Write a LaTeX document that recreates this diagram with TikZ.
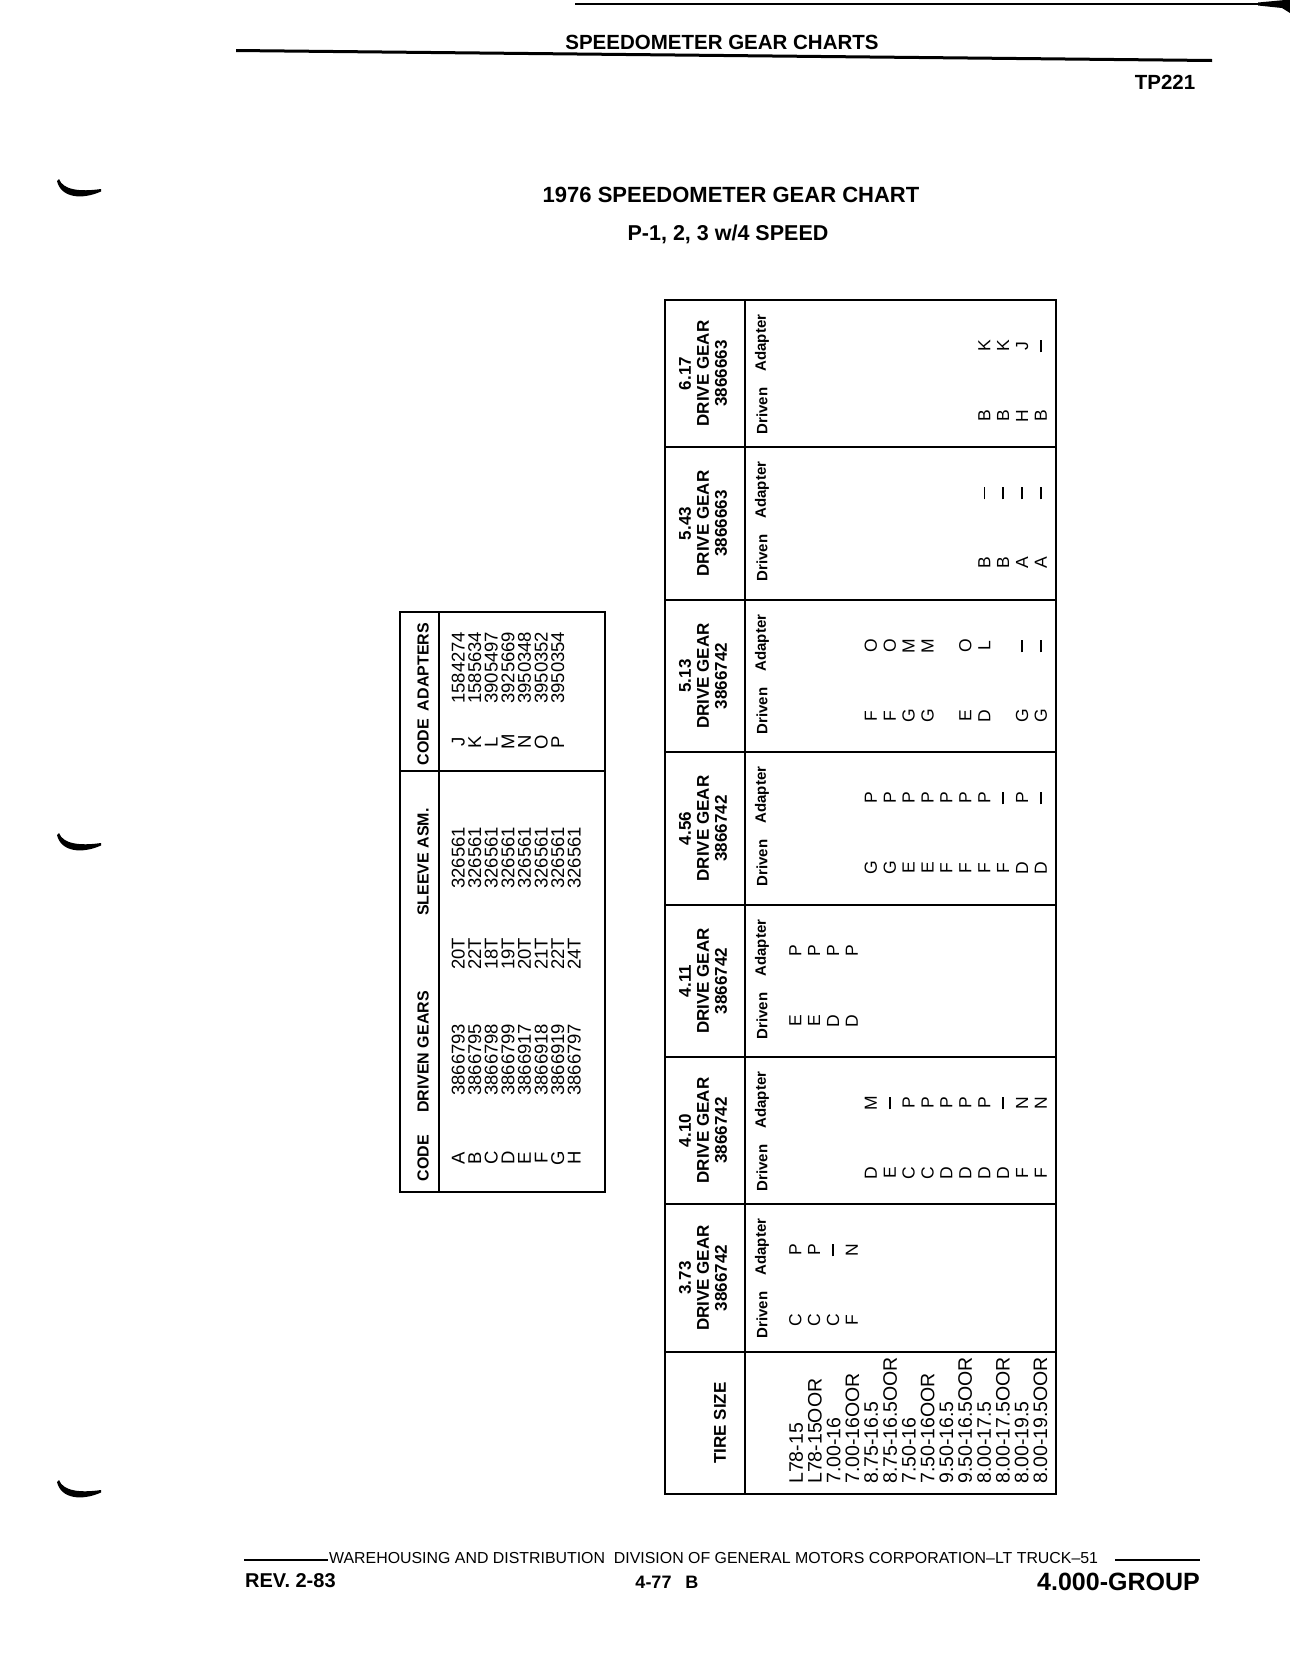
\documentclass[tikz,border=0pt]{standalone}
\usepackage{fontspec}
\setmainfont{Liberation Sans}
\newcommand\dd{\raisebox{0.3em}{\rule{0.72em}{1.5pt}}}
\tikzset{
  hdr/.style={rotate=90, align=center, inner sep=0pt, font=\bfseries\fontsize{17}{18}\selectfont},
  sub/.style={rotate=90, inner sep=0pt, font=\bfseries\fontsize{15}{15}\selectfont},
  dat/.style={rotate=90, inner sep=0pt, text height=12.5pt, text depth=0pt, font=\fontsize{17.5}{17.5}\selectfont},
  tire/.style={rotate=90, anchor=west, inner sep=0pt, text height=13.5pt, text depth=0pt, font=\fontsize{19.5}{19.5}\selectfont},
  sdat/.style={rotate=90, inner sep=0pt, text height=13pt, text depth=0pt, font=\fontsize{18.5}{18.5}\selectfont},
  snum/.style={sdat, anchor=west},
  shdr/.style={rotate=90, inner sep=0pt, font=\bfseries\fontsize{16}{16}\selectfont},
  tline/.style={line width=2.2pt},
  ttl/.style={inner sep=0pt, anchor=base, font=\bfseries\fontsize{22}{22}\selectfont},
}
\newcommand\gsec[5]{%
  \node[hdr] (h#1) at (703,#3) {#4};
  \node[sub] (la#1) at (762,#2+43) {Adapter};
  \node[sub] (ld#1) at (762,#2+111) {Driven};
  \foreach \r/\d/\a [count=\k] in {#5} {
    \node[dat] (d#1-\k) at (795+18.9*\r,#2+116) {\d};
    \node[dat] (a#1-\k) at (795+18.9*\r,#2+46) {\a};
  }}
\begin{document}
\begin{tikzpicture}[x=1pt,y=-1pt]
\useasboundingbox (0,0) rectangle (1290,1658);
% scan edge at top
\draw[line width=1.2pt] (575,4) -- (1268,4);
\fill (1258,2.5) -- (1285,0) -- (1290,0) -- (1290,13) -- (1282,8) -- (1258,5.5) -- cycle;
% page header
\node[ttl, font=\bfseries\fontsize{20.5}{20.5}\selectfont] (title) at (722,49.5) {SPEEDOMETER GEAR CHARTS};
\fill (236,49) -- (1212,59) -- (1212,62) -- (236,52) -- cycle;
\node[ttl, font=\bfseries\fontsize{20.5}{20.5}\selectfont] (tp) at (1165,89) {TP221};
\node[ttl] (chart) at (731,202) {1976 SPEEDOMETER GEAR CHART};
\node[ttl, font=\bfseries\fontsize{21.5}{21.5}\selectfont] (model) at (728,240) {P-1, 2, 3 w/4 SPEED};
% punch marks
\foreach \yy in {189,843,1490} {
  \fill (59,\yy-10) .. controls (63,\yy+1) and (80,\yy+3) .. (101,\yy)
     -- (101,\yy+2.5) .. controls (82,\yy+11) and (61,\yy+9) .. (57,\yy-8) -- cycle;
}
% ---------- small table ----------
\draw[tline] (400,612) rectangle (605,1192);
\draw[tline] (439,612) -- (439,1192);
\draw[tline] (400,771) -- (605,771);
\node[shdr] (sh1) at (423,667) {ADAPTERS};
\node[shdr] (sh2) at (423,742) {CODE};
\node[shdr] (sh3) at (423,862) {SLEEVE ASM.};
\node[shdr] (sh4) at (423,1052) {DRIVEN GEARS};
\node[shdr] (sh5) at (423,1158) {CODE};
\foreach \n/\c [count=\k from 0] in {1584274/J,1585634/K,3905497/L,3925669/M,3950348/N,3950352/O,3950354/P} {
  \node[snum] (an\k) at (458+16.6*\k,704) {\n};
  \node[sdat] (ac\k) at (458+16.6*\k,742) {\c};
}
\foreach \g/\t/\c [count=\k from 0] in {3866793/20T/A,3866795/22T/B,3866798/18T/C,3866799/19T/D,3866917/20T/E,3866918/21T/F,3866919/22T/G,3866797/24T/H} {
  \node[snum] (sl\k) at (458+16.6*\k,889) {326561};
  \node[snum] (tt\k) at (458+16.6*\k,970) {\t};
  \node[snum] (gn\k) at (458+16.6*\k,1096) {\g};
  \node[sdat] (gc\k) at (458+16.6*\k,1158) {\c};
}
% ---------- big table ----------
\draw[tline] (665,300) rectangle (1056,1494);
\draw[tline] (745,300) -- (745,1494);
\foreach \yy in {447,600,752,905,1057,1204} { \draw[tline] (665,\yy) -- (1056,\yy); }
\draw[line width=2.8pt] (665,1352) -- (1056,1352);
\gsec{0}{300}{373.5}{6.17\\DRIVE GEAR\\3866663}{10/B/K,11/B/K,12/H/J,13/B/\dd}
\gsec{1}{447}{523.5}{5.43\\DRIVE GEAR\\3866663}{10/B/\dd,11/B/\dd,12/A/\dd,13/A/\dd}
\gsec{2}{600}{676}{5.13\\DRIVE GEAR\\3866742}{4/F/O,5/F/O,6/G/M,7/G/M,9/E/O,10/D/L,12/G/\dd,13/G/\dd}
\gsec{3}{752}{828.5}{4.56\\DRIVE GEAR\\3866742}{4/G/P,5/G/P,6/E/P,7/E/P,8/F/P,9/F/P,10/F/P,11/F/\dd,12/D/P,13/D/\dd}
\gsec{4}{905}{981}{4.11\\DRIVE GEAR\\3866742}{0/E/P,1/E/P,2/D/P,3/D/P}
\gsec{5}{1057}{1130.5}{4.10\\DRIVE GEAR\\3866742}{4/D/M,5/E/\dd,6/C/P,7/C/P,8/D/P,9/D/P,10/D/P,11/D/\dd,12/F/N,13/F/N}
\gsec{6}{1204}{1278}{3.73\\DRIVE GEAR\\3866742}{0/C/P,1/C/P,2/C/\dd,3/F/N}
\node[hdr] (tsz) at (720,1423) {TIRE SIZE};
\foreach \s [count=\k from 0] in {L78-15,L78-15OOR,7.00-16,7.00-16OOR,8.75-16.5,8.75-16.5OOR,7.50-16,7.50-16OOR,9.50-16.5,9.50-16.5OOR,8.00-17.5,8.00-17.5OOR,8.00-19.5,8.00-19.5OOR} {
  \node[tire] (ts\k) at (796+18.8*\k,1484) {\s};
}
% ---------- footer ----------
\node[inner sep=0pt, anchor=base west, font=\fontsize{15.9}{15.9}\selectfont] (foot) at (329,1563) {WAREHOUSING AND DISTRIBUTION\ \ DIVISION OF GENERAL MOTORS CORPORATION\textendash LT TRUCK\textendash 51};
\draw[line width=1.2pt] (244,1560) -- (328,1560);
\draw[line width=1.2pt] (1115,1560) -- (1200,1560);
\node[inner sep=0pt, anchor=base west, font=\bfseries\fontsize{20}{20}\selectfont] (rev) at (245,1587) {REV. 2-83};
\node[inner sep=0pt, anchor=base, font=\bfseries\fontsize{18}{18}\selectfont] (pg) at (667,1588) {4-77\hspace{14pt}B};
\node[inner sep=0pt, anchor=base east, font=\bfseries\fontsize{25}{25}\selectfont] (grp) at (1200,1590) {4.000-GROUP};
\end{tikzpicture}
\end{document}
